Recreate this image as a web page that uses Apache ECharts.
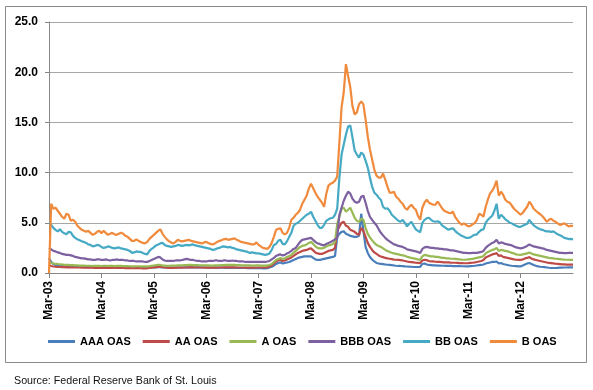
<!DOCTYPE html>
<html><head><meta charset="utf-8">
<script src="https://cdn.jsdelivr.net/npm/echarts@6/dist/echarts.min.js"></script>
<style>html,body{margin:0;padding:0;background:#fff}#c{width:593px;height:390px}</style>
</head><body><div id="c"></div>
<script>
// x positions: half-month steps from Mar-03 (index/24 = years since Mar-2003)
const seriesNames = ['AAA OAS','AA OAS','A OAS','BBB OAS','BB OAS','B OAS'];
const tickLabels = ['Mar-03','Mar-04','Mar-05','Mar-06','Mar-07','Mar-08','Mar-09','Mar-10','Mar-11','Mar-12'];
const stepsPerYear = 24;

const aaa = [
1.5,1.1,0.9,0.8,0.75,0.7,0.68,0.66,0.65,0.64,0.63,0.62,0.62,0.61,0.6,0.6,0.6,0.59,0.59,0.58,0.58,0.58,0.58,0.58,
0.57,0.57,0.57,0.56,0.56,0.56,0.56,0.55,0.55,0.55,0.55,0.54,0.54,0.54,0.54,0.53,0.53,0.53,0.53,0.52,0.52,0.52,0.53,0.55,
0.56,0.57,0.58,0.58,0.56,0.55,0.54,0.54,0.54,0.54,0.54,0.55,0.55,0.55,0.56,0.56,0.56,0.57,0.57,0.56,0.56,0.56,0.55,0.55,
0.55,0.54,0.54,0.53,0.53,0.53,0.53,0.53,0.53,0.52,0.52,0.52,0.52,0.51,0.51,0.5,0.5,0.5,0.5,0.49,0.49,0.48,0.48,0.48,
0.48,0.48,0.47,0.47,0.48,0.55,0.62,0.75,0.9,1.0,1.05,0.95,1.0,1.05,1.1,1.2,1.3,1.4,1.5,1.55,1.6,1.65,1.65,1.65,
1.65,1.5,1.35,1.3,1.3,1.35,1.4,1.45,1.5,1.55,1.6,1.7,3.6,3.9,4.1,4.15,3.9,3.8,3.7,3.65,3.6,3.6,3.7,5.9,
4.2,2.6,2.0,1.6,1.35,1.15,1.0,0.95,0.9,0.88,0.85,0.82,0.8,0.78,0.75,0.72,0.7,0.7,0.68,0.66,0.65,0.63,0.62,0.6,
0.6,0.6,0.6,0.9,0.95,0.85,0.8,0.78,0.76,0.75,0.74,0.73,0.72,0.72,0.71,0.7,0.7,0.69,0.69,0.68,0.68,0.67,0.67,0.66,
0.66,0.68,0.7,0.72,0.75,0.78,0.8,0.85,0.95,1.0,1.05,1.1,1.1,1.15,0.95,1.0,0.9,0.85,0.8,0.75,0.72,0.7,0.68,0.66,
0.66,0.75,0.85,0.95,1.0,0.9,0.8,0.72,0.66,0.62,0.6,0.58,0.55,0.52,0.5,0.5,0.5,0.52,0.53,0.54,0.55,0.55,0.56,0.56,
0.56];

const aa = [
0.8,0.7,0.65,0.62,0.6,0.6,0.58,0.58,0.57,0.57,0.56,0.56,0.55,0.55,0.55,0.54,0.54,0.54,0.53,0.53,0.53,0.52,0.52,0.52,
0.52,0.52,0.51,0.51,0.51,0.5,0.5,0.5,0.5,0.5,0.5,0.49,0.49,0.49,0.48,0.48,0.48,0.48,0.48,0.47,0.47,0.47,0.5,0.53,
0.56,0.58,0.6,0.6,0.57,0.55,0.53,0.52,0.52,0.52,0.53,0.53,0.54,0.54,0.55,0.55,0.56,0.56,0.56,0.55,0.55,0.55,0.55,0.54,
0.54,0.54,0.53,0.53,0.54,0.54,0.55,0.55,0.56,0.56,0.56,0.56,0.56,0.56,0.55,0.55,0.55,0.55,0.54,0.54,0.54,0.54,0.54,0.55,
0.55,0.55,0.55,0.55,0.56,0.65,0.75,0.95,1.15,1.25,1.3,1.2,1.25,1.35,1.45,1.55,1.7,1.85,2.0,2.1,2.2,2.25,2.3,2.4,
2.45,2.25,2.05,1.95,1.9,1.9,2.0,2.1,2.2,2.25,2.3,2.5,4.2,4.6,5.0,5.1,4.7,4.6,4.3,4.2,4.1,3.9,3.8,4.5,
4.2,3.6,3.0,2.6,2.3,2.05,1.9,1.75,1.65,1.58,1.5,1.45,1.42,1.38,1.34,1.32,1.3,1.28,1.25,1.2,1.15,1.1,1.08,1.05,
1.02,1.0,0.98,1.25,1.32,1.28,1.2,1.15,1.15,1.12,1.1,1.1,1.08,1.06,1.05,1.05,1.03,1.02,1.02,1.0,0.98,0.98,0.97,0.97,
0.98,1.0,1.02,1.05,1.1,1.15,1.2,1.3,1.55,1.65,1.75,1.85,1.9,1.98,1.7,1.75,1.6,1.55,1.5,1.45,1.4,1.35,1.32,1.3,
1.3,1.35,1.45,1.5,1.58,1.45,1.35,1.3,1.25,1.2,1.15,1.1,1.05,1.0,0.98,0.95,0.92,0.9,0.88,0.86,0.85,0.84,0.83,0.83,
0.83];

const a = [
1.1,1.0,0.95,0.9,0.9,0.85,0.85,0.82,0.8,0.8,0.78,0.78,0.76,0.75,0.74,0.74,0.73,0.72,0.72,0.72,0.7,0.7,0.71,0.72,
0.7,0.72,0.72,0.7,0.7,0.7,0.69,0.7,0.71,0.7,0.69,0.68,0.68,0.67,0.66,0.66,0.67,0.67,0.66,0.65,0.65,0.65,0.68,0.72,
0.75,0.78,0.82,0.8,0.76,0.74,0.72,0.72,0.73,0.74,0.74,0.75,0.76,0.77,0.78,0.79,0.8,0.8,0.79,0.78,0.78,0.77,0.77,0.76,
0.76,0.75,0.74,0.74,0.75,0.76,0.77,0.78,0.79,0.8,0.8,0.81,0.81,0.8,0.79,0.78,0.77,0.76,0.76,0.75,0.75,0.74,0.74,0.75,
0.75,0.74,0.74,0.74,0.75,0.8,0.9,1.1,1.3,1.4,1.5,1.4,1.45,1.6,1.7,1.8,2.0,2.2,2.4,2.6,2.7,2.75,2.85,3.0,
3.1,2.9,2.65,2.5,2.45,2.45,2.5,2.65,2.75,2.8,2.9,3.1,4.9,5.6,6.4,6.5,6.1,6.3,6.5,6.0,5.5,5.2,5.1,5.4,
5.3,4.5,3.9,3.55,3.25,3.0,2.8,2.7,2.6,2.45,2.3,2.2,2.1,2.02,1.95,1.9,1.85,1.8,1.76,1.72,1.62,1.56,1.5,1.45,
1.4,1.35,1.3,1.65,1.8,1.75,1.7,1.65,1.65,1.6,1.6,1.55,1.5,1.5,1.45,1.45,1.42,1.42,1.4,1.38,1.35,1.33,1.32,1.32,
1.35,1.38,1.4,1.45,1.5,1.55,1.6,1.7,1.95,2.1,2.2,2.3,2.35,2.5,2.2,2.3,2.25,2.2,2.15,2.1,2.0,1.95,1.85,1.82,
1.8,1.85,1.9,1.95,2.05,1.95,1.85,1.8,1.75,1.7,1.65,1.6,1.55,1.5,1.48,1.45,1.42,1.4,1.38,1.35,1.33,1.32,1.32,1.3,
1.3];

const bbb = [
2.5,2.35,2.2,2.15,2.05,2.0,1.9,1.85,1.8,1.8,1.75,1.7,1.6,1.55,1.5,1.45,1.45,1.4,1.35,1.35,1.3,1.3,1.35,1.35,
1.3,1.3,1.35,1.3,1.25,1.3,1.3,1.35,1.3,1.3,1.3,1.25,1.25,1.2,1.2,1.2,1.15,1.15,1.15,1.15,1.1,1.1,1.2,1.3,
1.4,1.5,1.6,1.55,1.35,1.25,1.2,1.2,1.2,1.2,1.25,1.25,1.25,1.3,1.35,1.4,1.35,1.3,1.3,1.25,1.2,1.2,1.15,1.15,
1.15,1.2,1.2,1.2,1.25,1.25,1.2,1.2,1.25,1.25,1.2,1.2,1.25,1.2,1.2,1.15,1.15,1.15,1.1,1.1,1.1,1.1,1.1,1.1,
1.1,1.1,1.1,1.1,1.15,1.2,1.35,1.5,1.7,1.8,1.85,1.75,1.8,1.95,2.05,2.2,2.4,2.5,2.8,3.1,3.3,3.35,3.4,3.45,
3.5,3.3,3.1,2.95,2.9,2.8,2.75,2.9,3.0,3.1,3.2,3.35,3.5,5.8,6.5,7.2,7.7,8.1,7.9,7.4,7.1,7.0,7.1,7.6,
7.7,7.0,6.2,5.6,5.3,5.0,4.75,4.35,4.0,3.75,3.5,3.3,3.15,3.0,2.85,2.8,2.7,2.65,2.6,2.5,2.35,2.3,2.25,2.2,
2.15,2.1,2.0,2.4,2.55,2.6,2.55,2.5,2.5,2.45,2.45,2.4,2.4,2.35,2.35,2.3,2.25,2.25,2.2,2.15,2.1,2.05,2.0,2.0,
1.98,1.98,2.0,2.0,2.0,2.05,2.1,2.2,2.5,2.7,2.85,3.0,3.1,3.3,2.95,3.05,3.0,2.9,2.85,2.8,2.75,2.65,2.55,2.5,
2.45,2.5,2.6,2.7,2.85,2.75,2.65,2.6,2.55,2.5,2.45,2.4,2.3,2.25,2.2,2.15,2.1,2.05,2.0,2.0,1.98,1.98,2.0,2.0,
2.0];

const bb = [
5.0,4.8,4.5,4.3,4.15,4.35,4.1,3.95,3.85,4.1,4.05,3.7,3.5,3.35,3.25,3.15,3.1,3.0,2.85,2.8,2.65,2.7,2.8,2.75,
2.6,2.5,2.55,2.65,2.6,2.5,2.45,2.5,2.55,2.45,2.4,2.35,2.3,2.2,2.0,2.05,2.15,2.1,2.1,2.0,1.9,1.85,2.2,2.4,
2.55,2.75,2.85,2.95,3.0,2.8,2.7,2.65,2.6,2.65,2.7,2.8,2.75,2.7,2.75,2.8,2.75,2.8,2.85,2.75,2.7,2.65,2.6,2.55,
2.5,2.45,2.4,2.3,2.35,2.45,2.5,2.6,2.65,2.6,2.55,2.6,2.5,2.45,2.35,2.3,2.25,2.2,2.15,2.1,2.0,2.05,2.0,1.95,
1.95,1.9,1.85,1.8,1.85,1.95,2.3,2.8,2.9,3.2,3.3,2.9,2.85,3.15,3.6,4.0,4.7,4.9,5.0,5.2,5.4,5.6,5.8,5.9,
6.1,5.6,5.2,4.8,4.5,4.5,4.8,5.2,5.35,5.45,5.5,5.8,6.4,9.5,11.8,12.8,13.8,14.6,14.7,13.5,12.2,11.8,11.5,12.0,
11.8,11.2,10.5,9.5,8.6,8.0,7.8,7.5,7.3,6.6,6.4,6.45,6.2,5.8,5.6,5.4,5.2,5.1,5.3,5.0,4.65,4.9,5.1,4.7,
4.35,4.2,4.05,5.0,5.3,5.45,5.5,5.3,5.15,5.1,5.15,5.05,4.75,4.6,4.45,4.3,4.4,4.45,4.2,4.0,3.85,3.7,3.6,3.5,
3.5,3.55,3.7,3.8,3.85,4.1,4.3,4.35,5.0,5.3,5.5,5.7,6.2,6.9,5.4,5.8,5.6,5.35,5.2,5.0,4.95,4.8,4.7,4.6,
4.6,4.7,4.8,4.9,5.3,5.0,4.75,4.6,4.45,4.35,4.3,4.2,4.15,4.15,4.1,4.15,4.0,3.85,3.75,3.65,3.5,3.45,3.38,3.4,
3.35];

const b = [
0,6.9,6.4,6.5,6.2,5.9,5.6,5.4,5.9,5.8,5.2,5.3,5.1,4.7,4.5,4.3,4.2,4.1,4.2,4.0,3.8,3.9,4.1,4.2,
3.95,4.2,4.0,3.8,3.9,4.0,3.85,3.8,3.9,4.0,3.9,3.7,3.6,3.4,3.2,3.2,3.35,3.2,3.1,3.0,2.95,3.1,3.4,3.6,
3.8,4.0,4.2,4.35,3.9,3.6,3.35,3.15,3.05,2.95,3.1,3.3,3.2,3.15,3.2,3.25,3.3,3.2,3.15,3.1,3.05,3.0,2.95,3.05,
3.1,3.0,2.9,2.85,2.95,3.1,3.2,3.25,3.35,3.4,3.3,3.35,3.4,3.45,3.3,3.2,3.1,3.05,3.0,2.95,2.9,2.85,2.85,3.05,
2.8,2.65,2.5,2.45,2.4,2.6,3.0,3.6,4.3,4.4,4.45,4.0,3.85,4.0,4.5,5.3,5.5,5.8,6.0,6.3,6.9,7.3,7.7,8.4,
8.9,8.45,8.0,7.6,7.3,7.0,6.6,7.9,8.7,8.9,9.0,9.2,9.6,13.0,16.5,18.0,20.8,19.6,18.5,16.6,15.8,16.0,16.8,17.1,
16.8,15.3,13.6,12.3,11.3,10.3,9.7,9.5,9.5,9.9,9.3,8.6,8.0,8.0,8.1,7.6,7.4,7.1,6.9,6.5,6.3,6.6,6.8,6.5,
6.3,5.7,5.3,6.5,7.0,7.3,7.0,6.9,6.8,6.8,7.1,6.8,6.45,6.2,6.1,6.0,5.95,6.1,5.6,5.3,5.0,4.8,4.95,4.8,
4.65,4.7,4.85,5.0,5.3,5.9,5.8,5.6,6.6,7.3,7.9,8.2,8.6,9.2,7.7,8.1,7.8,7.3,7.1,7.0,6.7,6.4,6.2,6.0,
5.8,6.0,6.3,6.6,7.1,6.8,6.4,6.2,6.0,5.85,5.65,5.4,5.1,5.3,5.4,5.2,5.1,4.95,4.8,4.85,4.95,4.8,4.65,4.7,
4.7];

const colors = ['#4A7EBB','#BE4B48','#98B954','#7D60A0','#46AAC5','#F08A3C'];
const allValues = [aaa, aa, a, bbb, bb, b];

const chart = echarts.init(document.getElementById('c'), null, {renderer: 'canvas'});
const FONT = '"Liberation Sans", Arial, sans-serif';
chart.setOption({
  animation: false,
  backgroundColor: '#fff',
  color: colors,
  grid: {left: 49, top: 22, width: 524, height: 251, containLabel: false},
  xAxis: {
    type: 'value', min: 0, max: 10, interval: 1,
    axisLine: {show: true, onZero: false, lineStyle: {color: '#868686', width: 1}},
    axisTick: {show: true, length: 5, lineStyle: {color: '#868686'}},
    splitLine: {show: false},
    axisLabel: {
      rotate: 90, margin: 8, showMaxLabel: false,
      color: '#000', fontFamily: FONT, fontWeight: 'bold', fontSize: 12,
      formatter: v => (v >= 0 && v < tickLabels.length) ? tickLabels[v] : ''
    }
  },
  yAxis: {
    type: 'value', min: 0, max: 25, interval: 5,
    axisLine: {show: true, lineStyle: {color: '#868686', width: 1}},
    axisTick: {show: true, length: 4, lineStyle: {color: '#868686'}},
    splitLine: {show: true, lineStyle: {color: '#A6A6A6', width: 1}},
    axisLabel: {
      margin: 11, color: '#000', fontFamily: FONT, fontWeight: 'bold', fontSize: 12,
      formatter: v => v.toFixed(1)
    }
  },
  legend: {
    left: 48, top: 336, padding: 0, itemGap: 12, itemWidth: 27, itemHeight: 3, icon: 'rect',
    textStyle: {color: '#000', fontFamily: FONT, fontWeight: 'bold', fontSize: 11},
    data: seriesNames
  },
  series: seriesNames.map((name, k) => ({
    name, type: 'line', symbol: 'none', showSymbol: false,
    lineStyle: {width: 2.2, color: colors[k]},
    itemStyle: {color: colors[k]},
    data: allValues[k].map((v, i) => [i / stepsPerYear, v])
  })),
  graphic: [
    {type: 'rect', shape: {x: 5.5, y: 6.5, width: 581, height: 356},
     style: {fill: 'none', stroke: '#8A8A8A', lineWidth: 1}, silent: true, z: -1},
    {type: 'text', left: 14, top: 376,
     style: {text: 'Source: Federal Reserve Bank of St. Louis', fill: '#111', font: '10.7px ' + FONT}}
  ]
});
</script>
</body></html>
